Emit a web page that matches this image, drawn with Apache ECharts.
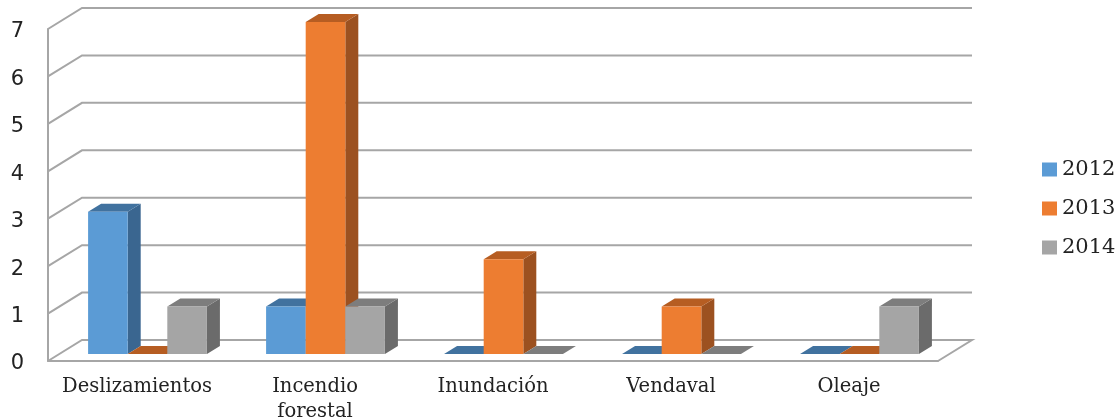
<!DOCTYPE html>
<html>
<head>
<meta charset="utf-8">
<style>html,body{margin:0;padding:0;background:#fff}#c{width:1120px;height:420px}</style>
<script src="https://cdn.jsdelivr.net/npm/echarts@6/dist/echarts.min.js"></script>
</head>
<body>
<div id="c"></div>
<script>
const categories = ['Deslizamientos', 'Incendio\nforestal', 'Inundación', 'Vendaval', 'Oleaje'];
const seriesNames = ['2012', '2013', '2014'];
const values2012 = [3, 1, 0, 0, 0];
const values2013 = [0, 7, 2, 1, 0];
const values2014 = [1, 1, 0, 0, 1];
const yTicks = [0, 1, 2, 3, 4, 5, 6, 7];

const frontColors = ['#5B9BD5', '#ED7D31', '#A5A5A5'];
const sideColors = ['#3A6690', '#9C5120', '#6B6B6B'];
const topColors = ['#41729F', '#B65D22', '#7D7D7D'];
const gridColor = '#A6A6A6';
const wallDx = 34, wallDy = -21;
const barPlaneDx = 10.5, barPlaneDy = -7;
const barDx = 13, barDy = -8;
const barShare = 0.2225;

const chart = echarts.init(document.getElementById('c'), null, { renderer: 'canvas' });

function renderWall(params, api) {
  const v = api.value(0);
  const cs = params.coordSys;
  const y = api.coord([0, v])[1];
  const left = cs.x, right = cs.x + cs.width;
  const pts = [[left, y], [left + wallDx, y + wallDy], [right + wallDx, y + wallDy]];
  if (v === 0) pts.push([right, y]);
  return {
    type: 'polyline',
    shape: { points: pts },
    style: { stroke: gridColor, lineWidth: 2, fill: null },
    silent: true
  };
}

function barRenderer(si) {
  return function (params, api) {
    const p = api.coord([api.value(0), api.value(1)]);
    const base = api.coord([api.value(0), 0]);
    const w = api.size([1, 0])[0] * barShare;
    const x0 = p[0] + barPlaneDx + (si - 1) * w - w / 2;
    const x1 = x0 + w;
    const yT = p[1] + barPlaneDy;
    const yB = base[1] + barPlaneDy;
    const children = [];
    if (yB - yT > 0.5) {
      children.push({
        type: 'polygon',
        shape: { points: [[x1, yT], [x1 + barDx, yT + barDy], [x1 + barDx, yB + barDy], [x1, yB]] },
        style: { fill: sideColors[si] }
      });
    }
    children.push({
      type: 'polygon',
      shape: { points: [[x0, yT], [x0 + barDx, yT + barDy], [x1 + barDx, yT + barDy], [x1, yT]] },
      style: { fill: topColors[si] }
    });
    if (yB - yT > 0.5) {
      children.push({
        type: 'rect',
        shape: { x: x0, y: yT, width: w, height: yB - yT },
        style: { fill: frontColors[si] }
      });
    }
    return { type: 'group', children: children };
  };
}

const allValues = [values2012, values2013, values2014];

chart.setOption({
  animation: false,
  backgroundColor: '#ffffff',
  grid: { left: 48, right: 182, top: 29, bottom: 59, containLabel: false, outerBoundsMode: 'none' },
  legend: {
    data: seriesNames,
    orient: 'vertical',
    left: 1042,
    top: 159,
    padding: 0,
    icon: 'rect',
    itemWidth: 15,
    itemHeight: 14,
    itemGap: 18,
    selectedMode: false,
    textStyle: { fontFamily: 'DejaVu Serif', fontSize: 21, color: '#222', lineHeight: 19 }
  },
  xAxis: {
    type: 'category',
    data: categories,
    axisLine: { show: true, lineStyle: { color: gridColor, width: 2 } },
    axisTick: { show: false },
    splitLine: { show: false },
    axisLabel: {
      interval: 0,
      hideOverlap: false,
      margin: 13,
      fontFamily: 'DejaVu Serif',
      fontSize: 19.5,
      lineHeight: 25,
      color: '#222'
    }
  },
  yAxis: {
    type: 'value',
    min: 0,
    max: 7,
    interval: 1,
    axisLine: { show: true, lineStyle: { color: gridColor, width: 2 } },
    axisTick: { show: false },
    splitLine: { show: false },
    axisLabel: { margin: 24, fontFamily: 'DejaVu Sans', fontSize: 21, color: '#222', verticalAlign: 'top', lineHeight: 6 }
  },
  series: [
    {
      type: 'custom',
      name: 'wall',
      z: 1,
      clip: false,
      silent: true,
      data: yTicks.map(v => [v]),
      encode: { y: 0 },
      renderItem: renderWall
    }
  ].concat(seriesNames.map((name, si) => ({
    type: 'custom',
    name: name,
    z: 3 + si,
    clip: false,
    itemStyle: { color: frontColors[si] },
    data: categories.map((c, i) => [i, allValues[si][i]]),
    encode: { x: 0, y: 1 },
    renderItem: barRenderer(si)
  })))
});
</script>
</body>
</html>
